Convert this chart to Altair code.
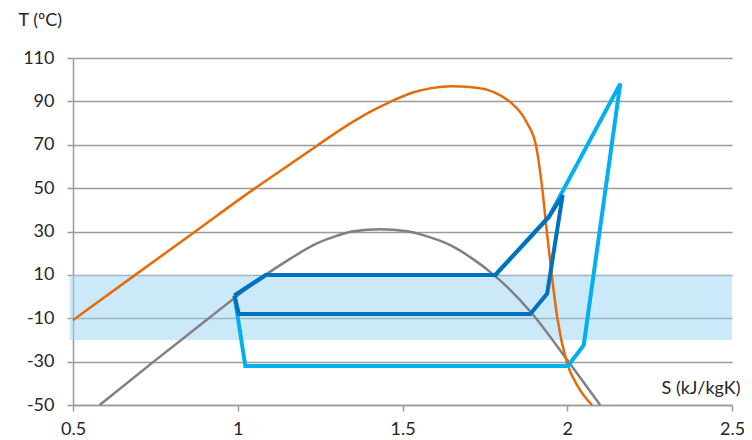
import altair as alt
import pandas as pd

# ---- data ----
orange_s = [0.5, 0.689, 0.869, 1.053, 1.149, 1.235, 1.331, 1.40, 1.463, 1.534, 1.584, 1.650, 1.706, 1.756,
            1.797, 1.827, 1.878, 1.906, 1.924, 1.938, 1.953, 1.970, 1.998, 2.033, 2.075]
orange_T = [-10.9, 10, 29.8, 50, 60, 69, 78.8, 85, 89.8, 94.2, 96, 97, 96.6, 95.4,
            92.8, 89.7, 80, 69, 50, 30, 10, -10, -30, -41.6, -50]

gray_s = [0.581, 0.745, 0.912, 1.084, 1.16, 1.240, 1.30, 1.352, 1.433, 1.514, 1.58, 1.645, 1.711, 1.777,
          1.893, 2.004, 2.1]
gray_T = [-50, -30, -10, 10, 17.5, 24.5, 28, 30.1, 31, 30.1, 27.5, 23.7, 17.6, 10,
          -7.8, -30.1, -50]

dark_s = [0.99, 1.086, 1.782, 1.944, 1.986, 1.939, 1.888, 1.003, 0.99]
dark_T = [0.5, 10, 10, 36.7, 46.7, 1.4, -8, -8, 0.5]

light_s = [0.99, 1.023, 2.002, 2.05, 2.161, 1.944, 1.782, 1.086, 0.99]
light_T = [0.5, -32, -32, -22.4, 98.2, 36.7, 10, 10, 0.5]

band_s = [0.49, 2.5]
band_T = [-20, 10]

x_ticks = [0.5, 1, 1.5, 2, 2.5]
y_ticks = [-50, -30, -10, 10, 30, 50, 70, 90, 110]


def frame(s, T):
    return pd.DataFrame({"s": s, "T": T, "i": list(range(len(s)))})


FONT = "Lato"
xs = alt.Scale(domain=[0.5, 2.5], nice=False, zero=False)
ys = alt.Scale(domain=[-50, 110], nice=False, zero=False)

x_axis = alt.Axis(values=x_ticks, labelExpr="'' + datum.value", grid=False, title="S (kJ/kgK)",
                  titleX=667, titleY=-17, titleAlign="right", titleBaseline="middle",
                  tickSize=6, labelPadding=9, labelFlush=False, labelOverlap=False)
y_axis = alt.Axis(values=y_ticks, labelExpr="'' + datum.value", grid=True, title="T (ºC)", titleAngle=0,
                  titleX=-55, titleY=-38, titleAlign="left", titleBaseline="middle",
                  tickSize=6, labelPadding=13, labelFlush=False, labelOverlap=False)

X = alt.X("s:Q", scale=xs, axis=x_axis)
Y = alt.Y("T:Q", scale=ys, axis=y_axis)

band_df = pd.DataFrame({"s": [band_s[0]], "s2": [band_s[1]], "T": [band_T[0]], "T2": [band_T[1]]})
band = alt.Chart(band_df).mark_rect(color="#9AD3F5", opacity=0.5, clip=False).encode(
    x=X, x2="s2:Q", y=Y, y2="T2:Q",
)


def line(s, T, color, width, interp="linear"):
    return alt.Chart(frame(s, T)).mark_line(
        color=color, strokeWidth=width, interpolate=interp, strokeJoin="miter", strokeMiterLimit=3
    ).encode(x=X, y=Y, order="i:Q")


chart = alt.layer(
    band,
    line(gray_s, gray_T, "#808080", 2.5, "monotone"),
    line(orange_s, orange_T, "#E46C0A", 2.5, "monotone"),
    line(light_s, light_T, "#00B0F0", 4),
    line(dark_s, dark_T, "#0070C0", 4),
).properties(
    width=659, height=347,
    padding={"left": 65, "top": 50, "right": 12, "bottom": 34},
    autosize=alt.AutoSizeParams(type="none"),
).configure_view(stroke=None).configure_axis(
    labelFont=FONT, titleFont=FONT, labelFontSize=18, titleFontSize=18,
    titleFontWeight="normal", labelColor="#262626", titleColor="#262626",
    domainColor="#9a9a9a", tickColor="#9a9a9a", gridColor="#9a9a9a",
    domainWidth=1.5, tickWidth=1.5, gridWidth=1.5,
)

chart.save("out.html", embed_options={"renderer": "svg", "actions": False})
